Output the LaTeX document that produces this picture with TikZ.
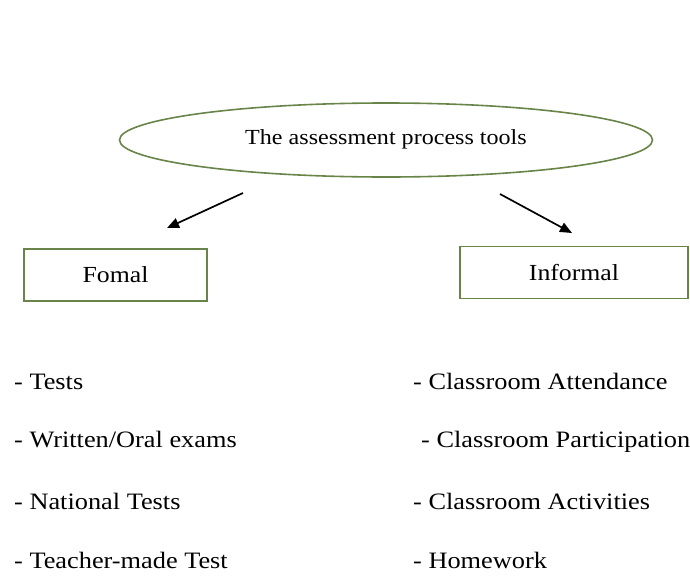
\documentclass[tikz,border=0pt]{standalone}
\usepackage{fontspec}
\setmainfont{Liberation Serif}
\usetikzlibrary{shapes.geometric,arrows.meta}

\definecolor{edgegreen}{RGB}{104,132,72}
% wide setting of the labels
\newcommand{\wide}[1]{\scalebox{1.12}[1]{#1}}

\begin{document}
\begin{tikzpicture}[x=1pt,y=-1pt]
\tikzset{
  every node/.style={inner sep=0pt},
  toolbox/.style={draw=edgegreen,line width=1.7pt,minimum width=#1,minimum height=52pt,font=\fontsize{23}{26}\selectfont},
  item/.style={anchor=base west,font=\fontsize{23.5}{26}\selectfont},
  pointer/.style={line width=1.7pt,-{Triangle[length=12pt,width=10pt]}}
}
\useasboundingbox (0,0) rectangle (690,576);
% top of the tree
\node [ellipse,draw=edgegreen,line width=1.6pt,minimum width=533pt,minimum height=74pt] (tools) at (386,140) {};
\node [anchor=base,font=\fontsize{21.5}{24}\selectfont] (title) at (386,144) {\wide{The assessment process tools}};
% the two kinds
\node [toolbox=183pt] (formal) at (115.5,275) {\wide{Fomal}};
\node [toolbox=228pt] (informal) at (574,272.5) {\wide{Informal}};
\coordinate (l0) at (243,193);
\coordinate (l1) at (167,228);
\coordinate (r0) at (500,194);
\coordinate (r1) at (572,233);
\draw [pointer] (l0) -- (l1);
\draw [pointer] (r0) -- (r1);
% formal tools
\node [item] (f1) at (14,389) {\wide{- Tests}};
\node [item] (f2) at (14,447) {\wide{- Written/Oral exams}};
\node [item] (f3) at (14,509) {\wide{- National Tests}};
\node [item] (f4) at (14,568) {\wide{- Teacher-made Test}};
% informal tools
\node [item] (i1) at (413,389) {\wide{- Classroom Attendance}};
\node [item] (i2) at (421,447) {\wide{- Classroom Participation}};
\node [item] (i3) at (413,509) {\wide{- Classroom Activities}};
\node [item] (i4) at (413,568) {\wide{- Homework}};
\end{tikzpicture}
\end{document}
